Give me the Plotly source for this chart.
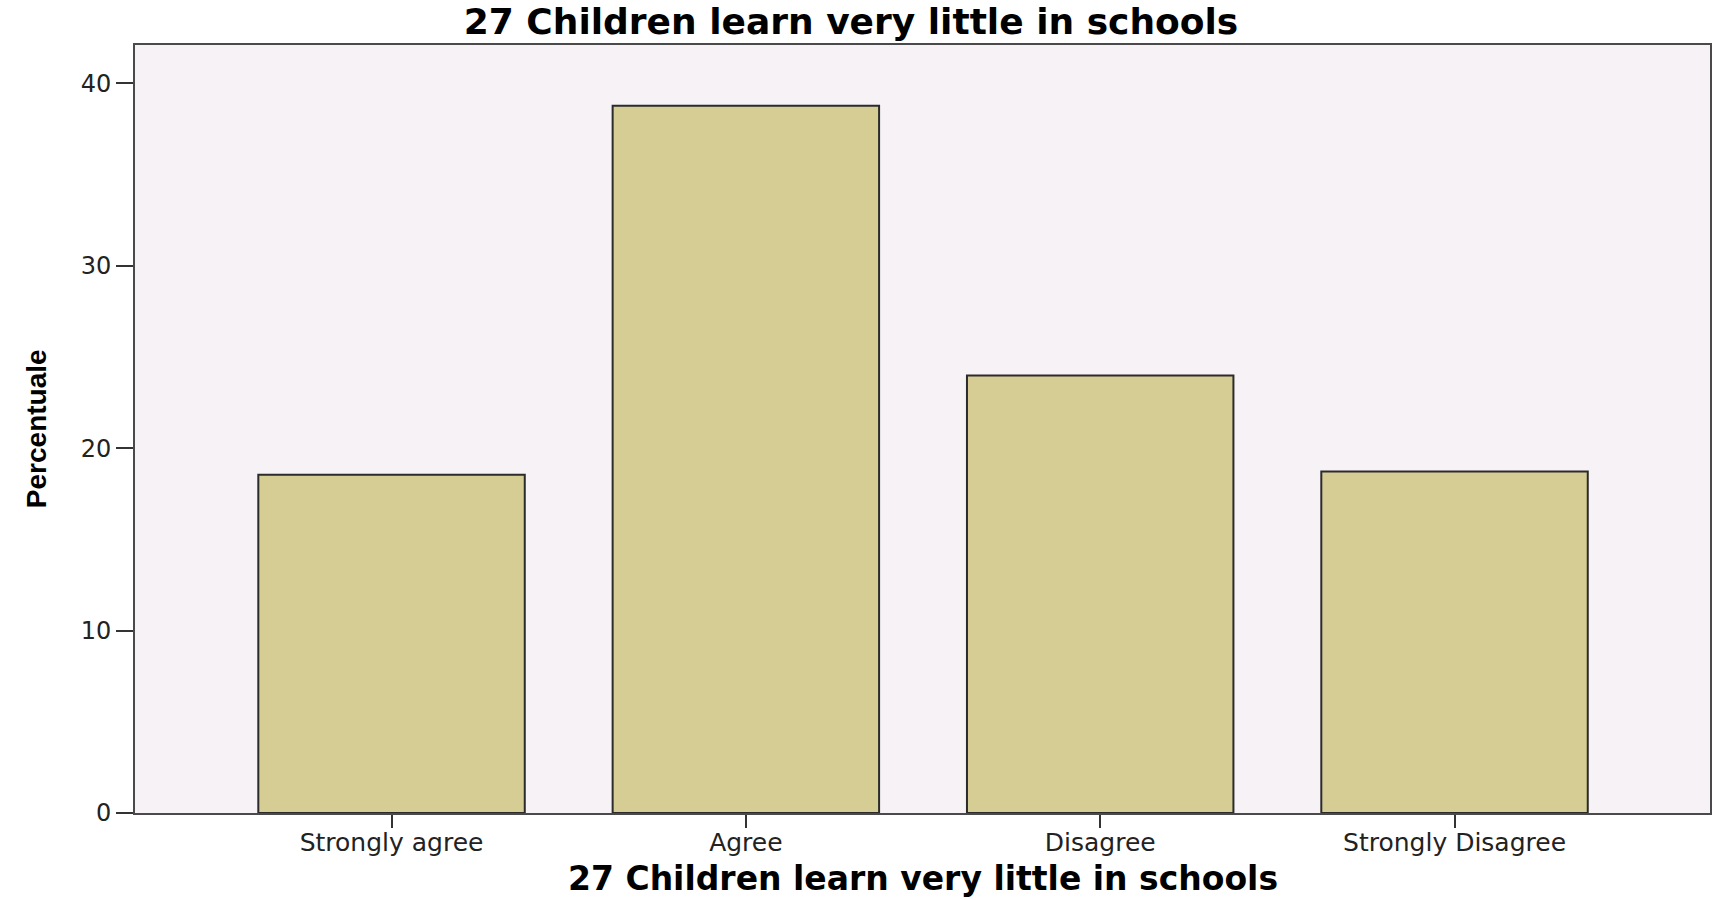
import plotly.graph_objects as go

# answers to item 27, percent of respondents
categories = ["Strongly agree", "Agree", "Disagree", "Strongly Disagree"]
percents = [18.54, 38.77, 23.98, 18.72]
y_ticks = [0, 10, 20, 30, 40]

title_text = "27 Children learn very little in schools"

fig = go.Figure()
fig.add_trace(go.Bar(
    x=categories,
    y=percents,
    width=0.752,
    marker=dict(color="#d6cd94", line=dict(color="#2b2b2b", width=2)),
    hoverinfo="x+y",
))

fig.update_layout(
    width=1721, height=900,
    margin=dict(l=135, r=9, t=45, b=87),
    paper_bgcolor="white",
    plot_bgcolor="#f6f2f6",
    showlegend=False,
    title=dict(text=title_text, x=851 / 1721, xref="container", xanchor="center",
               y=1 - 21 / 900, yref="container", yanchor="middle",
               font=dict(family="DejaVu Sans", size=36, color="black", weight="bold")),
)

fig.update_xaxes(
    range=[-0.724, 3.721],
    showline=True, linecolor="#4a4a4a", linewidth=2, mirror=True,
    ticks="outside", ticklen=13, tickwidth=2, tickcolor="#333",
    ticklabelstandoff=-7,
    tickfont=dict(family="DejaVu Sans", size=25, color="#222"),
    showgrid=False,
)
fig.update_yaxes(
    range=[0, 42.1],
    tickvals=y_ticks,
    showline=True, linecolor="#4a4a4a", linewidth=2, mirror=True,
    ticks="outside", ticklen=17, tickwidth=2, tickcolor="#333",
    tickfont=dict(family="DejaVu Sans", size=24, color="#222"),
    showgrid=False, zeroline=False,
)

# axis titles placed as annotations (paper coords: plot is 1577 x 768 px)
fig.add_annotation(text=title_text, xref="paper", x=0.5, yref="paper", y=(813 - 878) / 768,
                   yanchor="middle", showarrow=False,
                   font=dict(family="DejaVu Sans", size=33, color="black", weight="bold"))
fig.add_annotation(text="Percentuale", xref="paper", x=(36 - 135) / 1577, yref="paper", y=0.5,
                   textangle=-90, showarrow=False, xanchor="center",
                   font=dict(family="Liberation Sans", size=28, color="black", weight="bold"))

# drop the default body margin so the figure sits at the page corner
fig.write_html("out.html", config={"displayModeBar": False},
               post_script="document.body.style.margin='0';")
